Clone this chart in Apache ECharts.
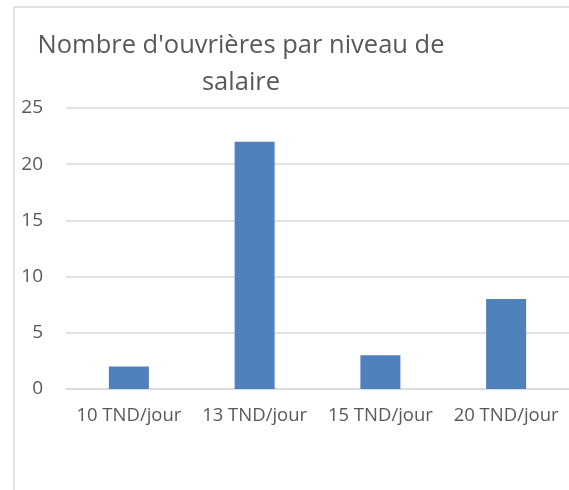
<!DOCTYPE html>
<html>
<head>
<meta charset="utf-8">
<script src="https://cdn.jsdelivr.net/npm/echarts@6/dist/echarts.min.js"></script>
<style>
  html, body { margin: 0; padding: 0; background: #fff; overflow: hidden; }
  #main { width: 569px; height: 490px; }
</style>
</head>
<body>
<div id="main"></div>
<script>
// données
const categories = ['10 TND/jour', '13 TND/jour', '15 TND/jour', '20 TND/jour']
const ouvrieres = [2, 22, 3, 8]
const yTicks = [0, 5, 10, 15, 20, 25]

const textColor = '#595959'
const font = 'Open Sans'

var myChart = echarts.init(document.getElementById('main'))

myChart.setOption({
  animation: false,
  graphic: [
    {
      type: 'rect',
      shape: { x: 14, y: 7, width: 620, height: 600 },
      style: { fill: 'none', stroke: '#d9d9d9', lineWidth: 1.5 },
      z: 0
    }
  ],
  title: {
    text: "Nombre d'ouvrières par niveau de\nsalaire",
    left: 236,
    top: 22,
    textAlign: 'center',
    textStyle: {
      color: textColor,
      fontFamily: font,
      fontWeight: 'normal',
      fontSize: 25.5,
      lineHeight: 37
    }
  },
  grid: {
    left: 66,
    top: 108,
    width: 508,
    height: 281,
    containLabel: false
  },
  xAxis: {
    type: 'category',
    data: categories,
    axisLine: { lineStyle: { color: '#d9d9d9', width: 1.5 } },
    axisTick: { show: false },
    axisLabel: { interval: 0, color: textColor, fontFamily: font, fontSize: 18.5, margin: 17 }
  },
  yAxis: {
    type: 'value',
    min: yTicks[0],
    max: yTicks[yTicks.length - 1],
    interval: 5,
    axisLine: { show: false },
    axisTick: { show: false },
    axisLabel: { color: textColor, fontFamily: font, fontSize: 19, margin: 23 },
    splitLine: { lineStyle: { color: '#d9d9d9', width: 1.5 } }
  },
  series: [
    {
      name: "Nombre d'ouvrières",
      type: 'bar',
      data: ouvrieres,
      barWidth: 40,
      itemStyle: { color: '#4f81bd' }
    }
  ]
})
</script>
</body>
</html>
